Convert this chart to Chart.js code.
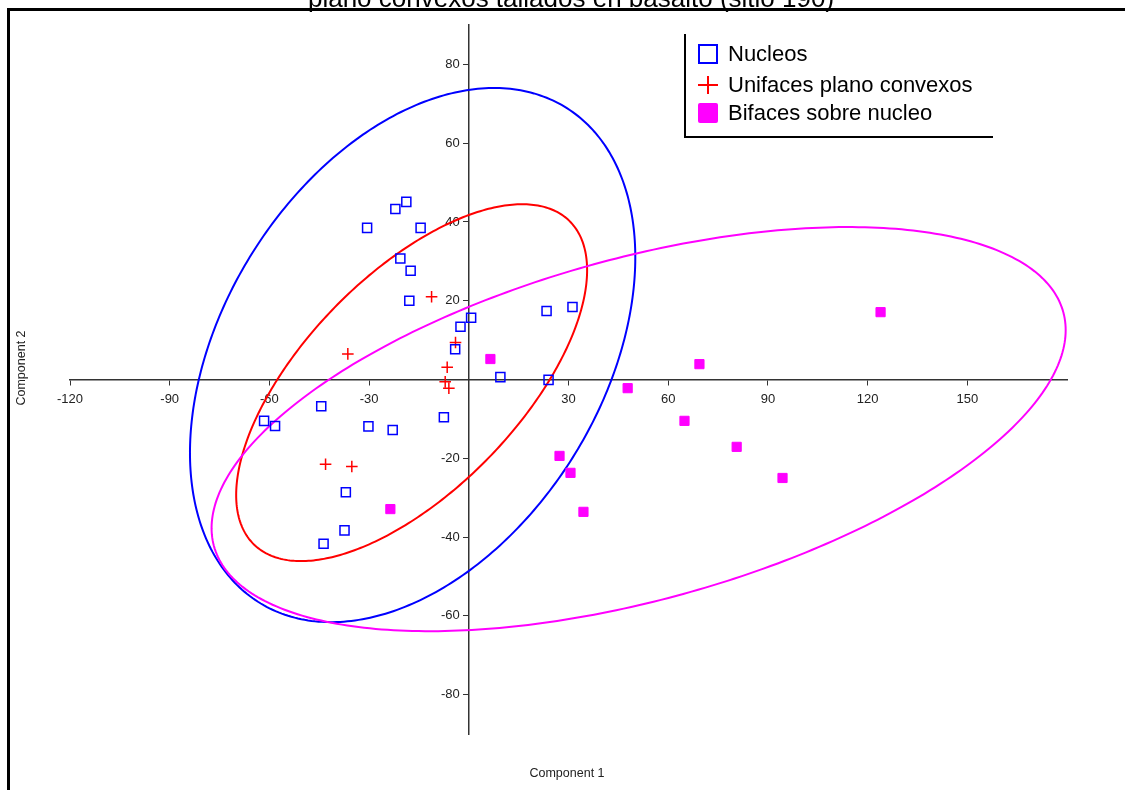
<!DOCTYPE html>
<html>
<head>
<meta charset="utf-8">
<script src="https://cdn.jsdelivr.net/npm/chart.js@4.4.1/dist/chart.umd.min.js"></script>
<style>
html, body { margin: 0; padding: 0; background: #fff; }
#wrap { width: 1125px; height: 790px; position: relative; }
</style>
</head>
<body>
<div id="wrap"><canvas id="chart"></canvas></div>
<script>
const titleText = "plano convexos tallados en basalto (sitio 190)";
const xAxisTitle = "Component 1";
const yAxisTitle = "Component 2";
const seriesNames = ["Nucleos", "Unifaces plano convexos", "Bifaces sobre nucleo"];

const xTicks = [-120, -90, -60, -30, 30, 60, 90, 120, 150];
const yTicks = [-80, -60, -40, -20, 20, 40, 60, 80];

// Nucleos
const nucleosX = [-30.6, -22.1, -18.8, -14.5, -20.6, -17.5, -17.9, 0.7, -2.5, -4.1, 9.5, 23.4, 31.2, 24.0,
                  -44.4, -61.6, -58.3, -30.2, -22.9, -7.5, -37.0, -37.4, -43.7];
const nucleosY = [38.5, 43.3, 45.1, 38.5, 30.7, 27.6, 20.0, 15.7, 13.4, 7.7, 0.6, 17.4, 18.4, -0.1,
                  -6.8, -10.5, -11.8, -11.9, -12.8, -9.6, -28.6, -38.3, -41.7];

// Unifaces plano convexos
const unifacesX = [-11.2, -36.4, -4.0, -6.5, -7.1, -6.0, -43.1, -35.2];
const unifacesY = [21.0, 6.5, 9.4, 3.1, -0.6, -2.2, -21.5, -22.1];

// Bifaces sobre nucleo
const bifacesX = [6.5, 69.4, 47.8, 64.9, 80.6, 27.3, 30.6, 94.4, 34.5, -23.6, 123.9];
const bifacesY = [5.2, 3.9, -2.2, -10.5, -17.1, -19.4, -23.7, -25.0, -33.6, -32.9, 17.1];

// confidence ellipses (data units): centre, half extents, correlation
const ellipseCx = [-16.9, -17.2, 51.1];
const ellipseCy = [6.2, -0.8, -12.6];
const ellipseRx = [67.0, 52.8, 128.5];
const ellipseRy = [67.8, 45.3, 51.3];
const ellipseRho = [0.366, 0.63, 0.49];

const colors = ["#0000ff", "#ff0000", "#ff00ff"];
const font = '"Liberation Sans", Arial, sans-serif';

function pts(xs, ys) {
    return xs.map((x, i) => ({x: x, y: ys[i]}));
}

const ellipsePlugin = {
    id: 'ellipses',
    beforeDatasetsDraw(chart) {
        const ctx = chart.ctx;
        const xs = chart.scales.x, ys = chart.scales.y;
        ctx.save();
        ctx.lineWidth = 2;
        for (let e = 0; e < ellipseCx.length; e++) {
            const phi = Math.acos(ellipseRho[e]);
            ctx.beginPath();
            for (let k = 0; k <= 360; k++) {
                const t = k * Math.PI / 180;
                const px = xs.getPixelForValue(ellipseCx[e] + ellipseRx[e] * Math.cos(t));
                const py = ys.getPixelForValue(ellipseCy[e] + ellipseRy[e] * Math.cos(t - phi));
                if (k === 0) ctx.moveTo(px, py); else ctx.lineTo(px, py);
            }
            ctx.closePath();
            ctx.strokeStyle = colors[e];
            ctx.stroke();
        }
        ctx.restore();
    }
};

const decorPlugin = {
    id: 'decor',
    afterDraw(chart) {
        const ctx = chart.ctx;
        ctx.save();
        // title, cut at the top
        ctx.fillStyle = '#000';
        ctx.font = '26px ' + font;
        ctx.textAlign = 'center';
        ctx.textBaseline = 'alphabetic';
        ctx.fillText(titleText, 571, 7);

        // frame
        ctx.strokeStyle = '#000';
        ctx.lineWidth = 3;
        ctx.strokeRect(8.5, 9.5, 1300, 1000);

        // axis titles
        ctx.font = '12.5px ' + font;
        ctx.fillStyle = '#222';
        ctx.textBaseline = 'middle';
        ctx.fillText(xAxisTitle, 567, 774);
        ctx.translate(22, 368);
        ctx.rotate(-Math.PI / 2);
        ctx.fillText(yAxisTitle, 0, 0);
        ctx.restore();

        // legend
        ctx.save();
        ctx.strokeStyle = '#000';
        ctx.lineWidth = 2;
        ctx.beginPath();
        ctx.moveTo(685, 34);
        ctx.lineTo(685, 137);
        ctx.lineTo(993, 137);
        ctx.stroke();

        const rows = [54, 85, 113];
        const mx = 708;
        // hollow square
        ctx.strokeStyle = colors[0];
        ctx.lineWidth = 2;
        ctx.strokeRect(mx - 9, rows[0] - 9, 18, 18);
        // plus
        ctx.strokeStyle = colors[1];
        ctx.beginPath();
        ctx.moveTo(mx - 10, rows[1]); ctx.lineTo(mx + 10, rows[1]);
        ctx.moveTo(mx, rows[1] - 9); ctx.lineTo(mx, rows[1] + 9);
        ctx.stroke();
        // filled square
        ctx.fillStyle = colors[2];
        ctx.beginPath();
        ctx.roundRect(mx - 10, rows[2] - 10, 20, 20, 2);
        ctx.fill();

        ctx.fillStyle = '#000';
        ctx.font = '22px ' + font;
        ctx.textAlign = 'left';
        ctx.textBaseline = 'middle';
        chart.data.datasets.forEach((ds, i) => {
            ctx.fillText(ds.label, 728, rows[i] + 1);
        });
        ctx.restore();
    }
};

const axisGrid = {
    drawOnChartArea: false,
    drawTicks: true,
    tickLength: 5,
    color: '#333',
    lineWidth: 1
};

let chartCanvas = document.getElementById("chart").getContext('2d');
let graph = new Chart(chartCanvas, {
    type: 'scatter',
    data: {
        datasets: [
            {
                label: seriesNames[0],
                data: pts(nucleosX, nucleosY),
                pointStyle: 'rect',
                radius: 6.4,
                borderColor: colors[0],
                borderWidth: 1.5,
                backgroundColor: 'rgba(0,0,0,0)'
            },
            {
                label: seriesNames[1],
                data: pts(unifacesX, unifacesY),
                pointStyle: 'cross',
                radius: 5.8,
                borderColor: colors[1],
                borderWidth: 1.5,
                backgroundColor: colors[1]
            },
            {
                label: seriesNames[2],
                data: pts(bifacesX, bifacesY),
                pointStyle: 'rect',
                radius: 6.5,
                borderColor: colors[2],
                borderWidth: 1,
                backgroundColor: colors[2]
            }
        ]
    },
    options: {
        responsive: true,
        maintainAspectRatio: false,
        animation: false,
        events: [],
        layout: {padding: {left: 70, right: 58, top: 25, bottom: 56}},
        plugins: {
            legend: {display: false},
            tooltip: {enabled: false},
            title: {display: false}
        },
        scales: {
            x: {
                type: 'linear',
                min: -120,
                max: 180,
                position: {y: 0},
                afterFit: (s) => { s.height = 0; },
                afterBuildTicks: (s) => { s.ticks = xTicks.map(v => ({value: v})); },
                grid: axisGrid,
                border: {display: true, color: '#333', width: 1.5},
                ticks: {
                    color: '#222',
                    font: {family: font, size: 13},
                    padding: 7,
                    maxRotation: 0,
                    autoSkip: false
                }
            },
            y: {
                type: 'linear',
                min: -90,
                max: 90,
                position: {x: 0},
                afterFit: (s) => { s.width = 0; },
                afterBuildTicks: (s) => { s.ticks = yTicks.map(v => ({value: v})); },
                grid: axisGrid,
                border: {display: true, color: '#333', width: 1.5},
                ticks: {
                    color: '#222',
                    font: {family: font, size: 13},
                    autoSkip: false,
                    // labels sit left of the crossing axis, past the tick mark
                    callback: (v) => v + '\u2002\u2009'
                }
            }
        }
    },
    plugins: [ellipsePlugin, decorPlugin]
});
</script>
</body>
</html>
